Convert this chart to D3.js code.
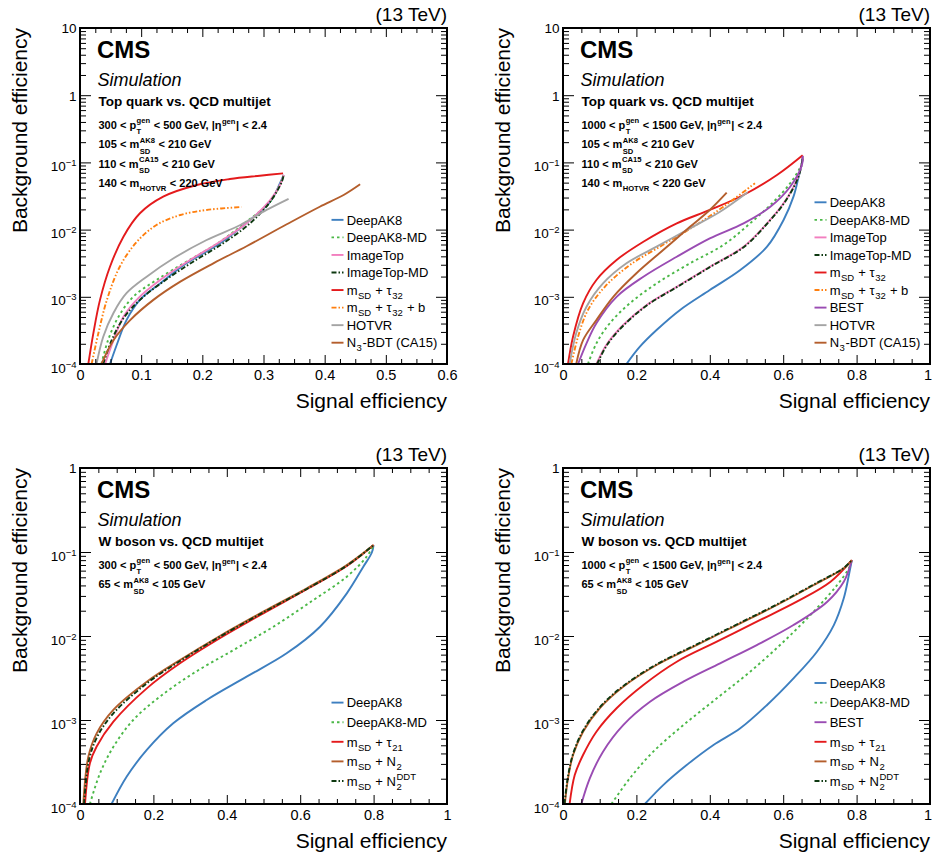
<!DOCTYPE html>
<html>
<head>
<meta charset="utf-8">
<script src="https://cdn.jsdelivr.net/npm/d3@7"></script>
<style>
  body { margin: 0; background: #fff; }
  svg { display: block; }
  text { font-family: "Liberation Sans", Arial, Helvetica, sans-serif; white-space: pre; fill: #000; }
</style>
</head>
<body>
<svg id="chart" width="933" height="857"></svg>
<script>
// ---------- ROC curves: [signal efficiency, background efficiency] ----------

// Top quark, 300 < pT < 500 GeV
const topLowDeepAK8 = [[0.049,1e-4],[0.060,1.92e-4],[0.076,4.5e-4],[0.098,9e-4],[0.131,1.58e-3],[0.174,3.15e-3],[0.229,6.25e-3],[0.278,1.39e-2],[0.311,2.6e-2],[0.327,4.89e-2],[0.333,6.5e-2]];
const topLowDeepAK8MD = [[0.035,1e-4],[0.046,2.28e-4],[0.063,5.06e-4],[0.087,1.0e-3],[0.125,1.78e-3],[0.174,3.33e-3],[0.229,6.6e-3],[0.272,1.31e-2],[0.311,2.6e-2],[0.330,5.47e-2],[0.333,6.5e-2]];
const topLowImageTop = [[0.041,1e-4],[0.055,2.28e-4],[0.071,5.06e-4],[0.095,9.5e-4],[0.131,1.78e-3],[0.180,3.53e-3],[0.229,6.6e-3],[0.272,1.24e-2],[0.311,2.75e-2],[0.327,4.61e-2],[0.333,6.5e-2]];
const topLowImageTopMD = [[0.038,1e-4],[0.052,2.28e-4],[0.071,4.79e-4],[0.098,9e-4],[0.136,1.68e-3],[0.185,3.33e-3],[0.234,6.25e-3],[0.278,1.24e-2],[0.311,2.6e-2],[0.330,5.16e-2],[0.333,6.5e-2]];
const topLowMsdTau32 = [[0.0136,1e-4],[0.0218,2.86e-4],[0.0327,9.0e-4],[0.049,2.8e-3],[0.071,7.85e-3],[0.098,1.75e-2],[0.136,3.09e-2],[0.191,4.61e-2],[0.245,5.66e-2],[0.294,6.34e-2],[0.332,6.87e-2]];
const topLowMsdTau32b = [[0.019,1e-4],[0.030,2.86e-4],[0.044,9e-4],[0.065,2.8e-3],[0.093,6.6e-3],[0.125,1.17e-2],[0.164,1.65e-2],[0.207,1.96e-2],[0.264,2.17e-2]];
const topLowHOTVR = [[0.027,1e-4],[0.038,2.55e-4],[0.0545,5.7e-4],[0.076,1.13e-3],[0.109,1.99e-3],[0.153,3.74e-3],[0.207,7.0e-3],[0.262,1.17e-2],[0.305,1.96e-2],[0.341,2.87e-2]];
const topLowN3BDT = [[0.035,1e-4],[0.055,2.28e-4],[0.082,4.5e-4],[0.120,9.0e-4],[0.164,1.68e-3],[0.218,3.15e-3],[0.273,5.7e-3],[0.338,1.2e-2],[0.392,2.19e-2],[0.431,3.27e-2],[0.458,4.72e-2]];

// Top quark, 1000 < pT < 1500 GeV
const topHighDeepAK8 = [[0.173,1e-4],[0.2095,1.81e-4],[0.255,3.2e-4],[0.319,6.37e-4],[0.400,1.26e-3],[0.483,2.5e-3],[0.556,5.57e-3],[0.601,1.39e-2],[0.628,3.09e-2],[0.642,6.12e-2],[0.651,1.0e-1],[0.653,0.122]];
const topHighDeepAK8MD = [[0.068,1e-4],[0.091,2.03e-4],[0.1275,4.04e-4],[0.182,8.0e-4],[0.255,1.58e-3],[0.346,3.15e-3],[0.437,5.9e-3],[0.510,1.24e-2],[0.574,2.6e-2],[0.619,4.89e-2],[0.649,9.14e-2],[0.653,0.122]];
const topHighImageTop = [[0.091,1e-4],[0.118,1.92e-4],[0.164,3.8e-4],[0.228,7.55e-4],[0.310,1.41e-3],[0.400,2.8e-3],[0.492,5.57e-3],[0.556,1.24e-2],[0.601,2.46e-2],[0.637,5.47e-2],[0.651,9.7e-2],[0.653,0.122]];
const topHighImageTopMD = [[0.093,1e-4],[0.120,1.92e-4],[0.166,3.8e-4],[0.230,7.55e-4],[0.312,1.41e-3],[0.402,2.8e-3],[0.494,5.57e-3],[0.557,1.24e-2],[0.602,2.46e-2],[0.638,5.47e-2],[0.651,9.7e-2],[0.653,0.122]];
const topHighMsdTau32 = [[0.0137,1e-4],[0.0273,2.55e-4],[0.0546,8.0e-4],[0.091,1.78e-3],[0.146,3.53e-3],[0.219,6.6e-3],[0.310,1.24e-2],[0.400,1.96e-2],[0.492,3.27e-2],[0.583,6.5e-2],[0.653,0.128]];
const topHighMsdTau32b = [[0.0228,1e-4],[0.041,2.55e-4],[0.068,6.37e-4],[0.114,1.41e-3],[0.182,2.97e-3],[0.264,5.57e-3],[0.355,1.10e-2],[0.437,2.19e-2],[0.523,4.89e-2]];
const topHighBEST = [[0.041,1e-4],[0.064,2.03e-4],[0.091,4.04e-4],[0.146,1.0e-3],[0.219,1.99e-3],[0.310,3.95e-3],[0.400,7.41e-3],[0.492,1.24e-2],[0.565,2.19e-2],[0.619,4.35e-2],[0.651,9.14e-2],[0.653,0.125]];
const topHighHOTVR = [[0.018,1e-4],[0.036,2.86e-4],[0.064,7.1e-4],[0.109,1.58e-3],[0.173,3.15e-3],[0.255,5.57e-3],[0.346,1.045e-2],[0.428,1.845e-2],[0.503,3.6e-2]];
const topHighN3BDT = [[0.036,1e-4],[0.055,2.28e-4],[0.091,4.5e-4],[0.137,1.0e-3],[0.200,2.24e-3],[0.273,4.97e-3],[0.346,1.10e-2],[0.400,1.96e-2],[0.446,3.54e-2]];

// W boson, 300 < pT < 500 GeV
const wLowDeepAK8 = [[0.086,1e-4],[0.127,2.11e-4],[0.182,4.4e-4],[0.254,9.13e-4],[0.345,1.73e-3],[0.454,3.28e-3],[0.563,6.22e-3],[0.654,1.29e-2],[0.727,3.22e-2],[0.772,6.68e-2],[0.795,0.098],[0.800,0.121]];
const wLowDeepAK8MD = [[0.027,1e-4],[0.0545,2.32e-4],[0.091,4.8e-4],[0.145,1e-3],[0.218,1.9e-3],[0.309,3.6e-3],[0.418,6.8e-3],[0.527,1.29e-2],[0.636,2.68e-2],[0.727,5.08e-2],[0.781,8.79e-2],[0.800,0.121]];
const wLowMsdTau21 = [[0.0136,1e-4],[0.027,3.05e-4],[0.045,4.8e-4],[0.091,9.55e-4],[0.182,2.38e-3],[0.2725,4.73e-3],[0.381,9.4e-3],[0.4995,1.86e-2],[0.618,3.6e-2],[0.727,6.8e-2],[0.800,0.121]];
const wLowMsdN2 = [[0.009,1e-4],[0.0227,3.66e-4],[0.0454,6.94e-4],[0.0908,1.32e-3],[0.182,2.86e-3],[0.2725,5.18e-3],[0.381,1.0e-2],[0.4995,1.95e-2],[0.618,3.7e-2],[0.727,7.0e-2],[0.800,0.121]];
const wLowMsdN2DDT = [[0.011,1e-4],[0.0245,3.34e-4],[0.047,6.33e-4],[0.0908,1.2e-3],[0.182,2.73e-3],[0.2725,5.04e-3],[0.381,9.8e-3],[0.4995,1.91e-2],[0.618,3.63e-2],[0.727,6.87e-2],[0.800,0.121]];

// W boson, 1000 < pT < 1500 GeV
const wHighDeepAK8 = [[0.223,1e-4],[0.273,1.68e-4],[0.337,2.91e-4],[0.410,5.04e-4],[0.483,7.96e-4],[0.556,1.51e-3],[0.628,3.13e-3],[0.692,6.5e-3],[0.738,1.35e-2],[0.765,2.81e-2],[0.779,5.32e-2],[0.787,0.08]];
const wHighDeepAK8MD = [[0.132,1e-4],[0.182,2.02e-4],[0.246,4.2e-4],[0.328,8.7e-4],[0.419,1.81e-3],[0.510,3.76e-3],[0.601,8.55e-3],[0.683,1.95e-2],[0.747,4.05e-2],[0.779,6.4e-2],[0.787,0.08]];
const wHighBEST = [[0.050,1e-4],[0.073,2.02e-4],[0.109,4.2e-4],[0.164,8.7e-4],[0.237,1.65e-3],[0.328,2.86e-3],[0.428,4.73e-3],[0.528,7.8e-3],[0.628,1.35e-2],[0.720,2.56e-2],[0.765,4.43e-2],[0.787,0.08]];
const wHighMsdTau21 = [[0.018,1e-4],[0.032,2.21e-4],[0.0546,3.83e-4],[0.091,7.26e-4],[0.146,1.38e-3],[0.219,2.61e-3],[0.310,4.94e-3],[0.419,8.55e-3],[0.528,1.48e-2],[0.637,2.56e-2],[0.729,4.43e-2],[0.787,0.08]];
const wHighMsdN2 = [[0.005,1e-4],[0.0137,2.02e-4],[0.0273,3.83e-4],[0.0546,7.26e-4],[0.100,1.38e-3],[0.164,2.49e-3],[0.255,4.52e-3],[0.364,7.8e-3],[0.4735,1.35e-2],[0.583,2.34e-2],[0.692,4.24e-2],[0.765,6.4e-2],[0.787,0.08]];
const wHighMsdN2DDT = [[0.004,1e-4],[0.013,2.05e-4],[0.027,3.9e-4],[0.054,7.4e-4],[0.099,1.40e-3],[0.163,2.52e-3],[0.254,4.57e-3],[0.363,7.9e-3],[0.473,1.37e-2],[0.582,2.37e-2],[0.691,4.28e-2],[0.765,6.45e-2],[0.787,0.08]];

// ---------- Tick values ----------
const xTicksTop = [0, 0.1, 0.2, 0.3, 0.4, 0.5, 0.6];
const xTicksFull = [0, 0.2, 0.4, 0.6, 0.8, 1];
const yDecadesTop = [1e-4, 1e-3, 1e-2, 1e-1, 1, 10];
const yDecadesW = [1e-4, 1e-3, 1e-2, 1e-1, 1];

// ---------- Text blocks (strings, {sub}, {sup}) ----------
const ptLow = ["300 < p", {sup: "gen", sub: "T"}, " < 500 GeV, |η", {sup: "gen"}, "| < 2.4"];
const ptHigh = ["1000 < p", {sup: "gen", sub: "T"}, " < 1500 GeV, |η", {sup: "gen"}, "| < 2.4"];
const mAK8Top = ["105 < m", {sup: "AK8", sub: "SD"}, " < 210 GeV"];
const mCA15Top = ["110 < m", {sup: "CA15", sub: "SD"}, " < 210 GeV"];
const mHOTVRTop = ["140 < m", {sub: "HOTVR"}, " < 220 GeV"];
const mAK8W = ["65 < m", {sup: "AK8", sub: "SD"}, " < 105 GeV"];

const legendLabels = {
  "DeepAK8": ["DeepAK8"],
  "DeepAK8-MD": ["DeepAK8-MD"],
  "ImageTop": ["ImageTop"],
  "ImageTop-MD": ["ImageTop-MD"],
  "tau32": ["m", {sub: "SD"}, " + τ", {sub: "32"}],
  "tau32b": ["m", {sub: "SD"}, " + τ", {sub: "32"}, " + b"],
  "BEST": ["BEST"],
  "HOTVR": ["HOTVR"],
  "N3BDT": ["N", {sub: "3"}, "-BDT (CA15)"],
  "tau21": ["m", {sub: "SD"}, " + τ", {sub: "21"}],
  "N2": ["m", {sub: "SD"}, " + N", {sub: "2"}],
  "N2DDT": ["m", {sub: "SD"}, " + N", {sup: "DDT", sub: "2"}]
};

// ---------- Line styles ----------
const styles = {
  "DeepAK8":     {color: "#3d7fc0", dash: null},
  "DeepAK8-MD":  {color: "#4bb847", dash: "2.5,3"},
  "ImageTop":    {color: "#f27fbf", dash: null},
  "ImageTop-MD": {color: "#0d3810", dash: "5,2,1.5,2"},
  "tau32":       {color: "#e41a1c", dash: null},
  "tau32b":      {color: "#ff7f0e", dash: "5,2,1.5,2,1.5,2"},
  "BEST":        {color: "#9a4cb3", dash: null},
  "HOTVR":       {color: "#a4a4a4", dash: null},
  "N3BDT":       {color: "#b45e2c", dash: null},
  "tau21":       {color: "#e41a1c", dash: null},
  "N2":          {color: "#b45e2c", dash: null},
  "N2DDT":       {color: "#0d3810", dash: "5,2,1.5,2"}
};

// ---------- Panel layout ----------
const W = 367, H = 336;
const panels = [
  {left: 80, top: 28, xMax: 0.6, xTicks: xTicksTop, xMinorStep: 0.025, yDecades: yDecadesTop,
   title: "Top quark vs. QCD multijet", info: [ptLow, mAK8Top, mCA15Top, mHOTVRTop],
   series: [["DeepAK8", topLowDeepAK8], ["DeepAK8-MD", topLowDeepAK8MD], ["ImageTop", topLowImageTop],
            ["ImageTop-MD", topLowImageTopMD], ["tau32", topLowMsdTau32], ["tau32b", topLowMsdTau32b],
            ["HOTVR", topLowHOTVR], ["N3BDT", topLowN3BDT]],
   legendBottom: 314.7, legendGap: 17.55},
  {left: 563, top: 28, xMax: 1, xTicks: xTicksFull, xMinorStep: 0.05, yDecades: yDecadesTop,
   title: "Top quark vs. QCD multijet", info: [ptHigh, mAK8Top, mCA15Top, mHOTVRTop],
   series: [["DeepAK8", topHighDeepAK8], ["DeepAK8-MD", topHighDeepAK8MD], ["ImageTop", topHighImageTop],
            ["ImageTop-MD", topHighImageTopMD], ["tau32", topHighMsdTau32], ["tau32b", topHighMsdTau32b],
            ["BEST", topHighBEST], ["HOTVR", topHighHOTVR], ["N3BDT", topHighN3BDT]],
   legendBottom: 314.7, legendGap: 17.55},
  {left: 80, top: 468, xMax: 1, xTicks: xTicksFull, xMinorStep: 0.05, yDecades: yDecadesW,
   title: "W boson vs. QCD multijet", info: [ptLow, mAK8W],
   series: [["DeepAK8", wLowDeepAK8], ["DeepAK8-MD", wLowDeepAK8MD], ["tau21", wLowMsdTau21],
            ["N2", wLowMsdN2], ["N2DDT", wLowMsdN2DDT]],
   legendBottom: 313, legendGap: 19.6},
  {left: 563, top: 468, xMax: 1, xTicks: xTicksFull, xMinorStep: 0.05, yDecades: yDecadesW,
   title: "W boson vs. QCD multijet", info: [ptHigh, mAK8W],
   series: [["DeepAK8", wHighDeepAK8], ["DeepAK8-MD", wHighDeepAK8MD], ["BEST", wHighBEST],
            ["tau21", wHighMsdTau21], ["N2", wHighMsdN2], ["N2DDT", wHighMsdN2DDT]],
   legendBottom: 313, legendGap: 19.6}
];

const svg = d3.select("#chart");

// Writes a run of text pieces left to right; sub/superscripts are stacked when both are given.
function richText(g, x, y, parts, o) {
  let cx = x;
  const put = (str, px, py, size) => {
    const t = g.append("text").attr("x", px).attr("y", py)
      .attr("font-size", size).attr("font-weight", o.weight || "normal").text(str);
    return t.node().getComputedTextLength();
  };
  parts.forEach(p => {
    if (typeof p === "string") {
      cx += put(p, cx, y, o.size);
    } else {
      let w = 0;
      const both = p.sup && p.sub;
      if (p.sup) w = Math.max(w, put(p.sup, cx + 0.5, y - (both ? o.supDy2 : o.supDy), o.small));
      if (p.sub) w = Math.max(w, put(p.sub, cx + 0.5, y + (both ? o.subDy2 : o.subDy), o.small));
      cx += w + 1;
    }
  });
  return cx;
}

const r3 = v => Math.round(v * 1000) / 1000;

panels.forEach((p, pi) => {
  const g = svg.append("g").attr("transform", `translate(${p.left},${p.top})`);
  const x = d3.scaleLinear().domain([0, p.xMax]).range([0, W]);
  const yMax = p.yDecades[p.yDecades.length - 1];
  const y = d3.scaleLog().domain([1e-4, yMax]).range([H, 0]);

  // curves
  const clipId = "clip" + pi;
  g.append("clipPath").attr("id", clipId).append("rect").attr("width", W).attr("height", H);
  const line = d3.line().x(d => x(d[0])).y(d => y(d[1])).curve(d3.curveCatmullRom.alpha(0.5));
  const curves = g.append("g").attr("clip-path", `url(#${clipId})`);
  p.series.forEach(([key, data]) => {
    const s = styles[key];
    curves.append("path").datum(data).attr("d", line)
      .attr("fill", "none").attr("stroke", s.color).attr("stroke-width", 1.9)
      .attr("stroke-dasharray", s.dash).attr("stroke-linejoin", "round");
  });

  // ticks
  const xMinor = d3.range(0, p.xMax + 1e-9, p.xMinorStep).map(r3).filter(v => !p.xTicks.some(t => Math.abs(t - v) < 1e-6));
  const yMinor = [];
  p.yDecades.slice(0, -1).forEach(d => { for (let k = 2; k <= 9; k++) yMinor.push(d * k); });

  const fmtX = d => d === 0 ? "0" : d === 1 ? "1" : d3.format(".1f")(d);
  const axes = g.append("g");
  const clean = sel => { sel.select(".domain").remove(); sel.attr("font-size", null).attr("font-family", null); sel.selectAll("line").attr("stroke", "#000"); };

  axes.append("g").attr("transform", `translate(0,${H})`)
    .call(d3.axisBottom(x).tickValues(p.xTicks).tickSizeInner(-9).tickSizeOuter(0).tickPadding(6).tickFormat(fmtX))
    .call(clean).selectAll("text").attr("font-size", 14.5)
    .attr("dx", d => (d === 1 && p.left + W > 900) ? -2.5 : null);
  axes.append("g").attr("transform", `translate(0,${H})`)
    .call(d3.axisBottom(x).tickValues(xMinor).tickSizeInner(-5).tickSizeOuter(0).tickFormat("")).call(clean);
  axes.append("g")
    .call(d3.axisTop(x).tickValues(p.xTicks).tickSizeInner(-9).tickSizeOuter(0).tickFormat("")).call(clean);
  axes.append("g")
    .call(d3.axisTop(x).tickValues(xMinor).tickSizeInner(-5).tickSizeOuter(0).tickFormat("")).call(clean);

  const yAx = axes.append("g")
    .call(d3.axisLeft(y).tickValues(p.yDecades).tickSizeInner(-11).tickSizeOuter(0).tickPadding(3.5).tickFormat(""))
    .call(clean);
  yAx.selectAll(".tick text").each(function (d) {
    const t = d3.select(this).attr("font-size", 13.5);
    const e = Math.round(Math.log10(d));
    if (e === 0 || e === 1) {
      t.attr("dy", "0.36em").text(e === 0 ? "1" : "10");
    } else {
      t.attr("dy", "0.6em").text(null);
      t.append("tspan").text("10");
      t.append("tspan").attr("dy", -5).attr("font-size", 9.5).text("−" + Math.abs(e));
    }
  });
  axes.append("g")
    .call(d3.axisLeft(y).tickValues(yMinor).tickSizeInner(-6).tickSizeOuter(0).tickFormat("")).call(clean);
  axes.append("g").attr("transform", `translate(${W},0)`)
    .call(d3.axisRight(y).tickValues(p.yDecades).tickSizeInner(-11).tickSizeOuter(0).tickFormat("")).call(clean);
  axes.append("g").attr("transform", `translate(${W},0)`)
    .call(d3.axisRight(y).tickValues(yMinor).tickSizeInner(-6).tickSizeOuter(0).tickFormat("")).call(clean);

  // frame
  g.append("rect").attr("width", W).attr("height", H)
    .attr("fill", "none").attr("stroke", "#000").attr("stroke-width", 2);

  // axis titles
  g.append("text").attr("x", W).attr("y", H + 43.5).attr("text-anchor", "end")
    .attr("font-size", 21).text("Signal efficiency");
  g.append("text").attr("transform", "translate(-53.5,0) rotate(-90)").attr("text-anchor", "end")
    .attr("font-size", 21).text("Background efficiency");
  g.append("text").attr("x", W).attr("y", -7).attr("text-anchor", "end")
    .attr("font-size", 19).text("(13 TeV)");

  // labels
  g.append("text").attr("x", 17).attr("y", 30).attr("font-size", 24).attr("font-weight", "bold").text("CMS");
  g.append("text").attr("x", 17.5).attr("y", 58.2).attr("font-size", 18).attr("font-style", "italic").text("Simulation");
  g.append("text").attr("x", 18.5).attr("y", 78).attr("font-size", 13.5).attr("font-weight", "bold").text(p.title);
  const infoOpts = {size: 11, small: 7.6, weight: "bold", supDy: 5, subDy: 3.5, supDy2: 5.5, subDy2: 5.5};
  p.info.forEach((parts, i) => richText(g, 18.5, 100.8 + i * 19.5, parts, infoOpts));

  // legend
  const legOpts = {size: 13, small: 9.5, weight: "normal", supDy: 5, subDy: 4, supDy2: 5.5, subDy2: 4.5};
  const n = p.series.length;
  p.series.forEach(([key], i) => {
    const ly = p.legendBottom - (n - 1 - i) * p.legendGap;
    const s = styles[key];
    g.append("line").attr("x1", 251.5).attr("x2", 263.5).attr("y1", ly).attr("y2", ly)
      .attr("stroke", s.color).attr("stroke-width", 1.9).attr("stroke-dasharray", s.dash);
    richText(g, 266.7, ly + 4.7, legendLabels[key], legOpts);
  });
});
</script>
</body>
</html>
